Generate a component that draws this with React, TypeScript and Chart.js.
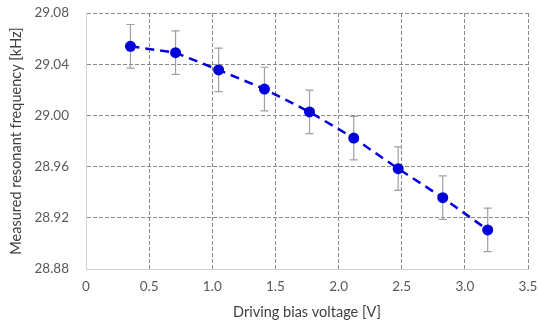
import React, { useEffect, useRef } from "react";
import { Chart, registerables } from "chart.js";

Chart.register(...registerables);

const voltages = [0.352, 0.709, 1.05, 1.413, 1.77, 2.12, 2.472, 2.825, 3.181];
const frequencies = [29.054, 29.049, 29.0355, 29.0206, 29.0027, 28.9823, 28.9584, 28.9357, 28.9105];
const errors = [0.017, 0.017, 0.017, 0.017, 0.017, 0.017, 0.017, 0.017, 0.017];
const yTicksMin = 28.88;
const yTicksMax = 29.08;
const xTicksMin = 0;
const xTicksMax = 3.5;

const errorBarPlugin = {
  id: "errorBars",
  beforeDatasetsDraw(chart: any) {
    const ctx = chart.ctx;
    const xs = chart.scales.x;
    const ys = chart.scales.y;
    ctx.save();
    ctx.strokeStyle = "#a0a0a0";
    ctx.lineWidth = 1.2;
    voltages.forEach((v, i) => {
      const px = xs.getPixelForValue(v);
      const top = ys.getPixelForValue(frequencies[i] + errors[i]);
      const bot = ys.getPixelForValue(frequencies[i] - errors[i]);
      ctx.beginPath();
      ctx.moveTo(px, top);
      ctx.lineTo(px, bot);
      ctx.moveTo(px - 4, top);
      ctx.lineTo(px + 4, top);
      ctx.moveTo(px - 4, bot);
      ctx.lineTo(px + 4, bot);
      ctx.stroke();
    });
    ctx.restore();
  },
};

export default function App() {
  const ref = useRef<HTMLCanvasElement>(null);
  useEffect(() => {
    document.body.style.margin = "0";
    const font = { family: "Lato", size: 13.5 };
    const titleFont = { family: "Lato", size: 14.5 };
    const chart = new Chart(ref.current!, {
      type: "scatter",
      data: {
        datasets: [
          {
            data: voltages.map((v, i) => ({ x: v, y: frequencies[i] })),
            showLine: true,
            borderColor: "#0000dd",
            borderWidth: 2.5,
            borderDash: [9, 6],
            backgroundColor: "#0000dd",
            pointBackgroundColor: "#0000dd",
            pointBorderColor: "#0000dd",
            pointBorderWidth: 0,
            pointRadius: 5.5,
          },
        ],
      },
      options: {
        animation: false,
        responsive: false,
        maintainAspectRatio: false,
        layout: { padding: { left: 4, right: 11, top: 13, bottom: 0 } },
        plugins: { legend: { display: false }, tooltip: { enabled: false } },
        scales: {
          x: {
            type: "linear",
            min: xTicksMin,
            max: xTicksMax,
            ticks: { stepSize: 0.5, color: "#595959", font, padding: 10 },
            grid: { color: "#8a8a8a", drawTicks: false, lineWidth: 1 },
            border: { display: true, color: "#d0d0d0", dash: [4, 2] },
            title: { display: true, text: "Driving bias voltage [V]", color: "#404040", font: titleFont, padding: { top: 0, bottom: 2 } },
            afterFit: (s: any) => { s.height = 54; s.paddingLeft = 0; s.paddingRight = 0; },
          },
          y: {
            type: "linear",
            min: yTicksMin,
            max: yTicksMax,
            ticks: { stepSize: 0.04, color: "#595959", font, padding: 17, callback: (v: any) => Number(v).toFixed(2) },
            grid: { color: "#8a8a8a", drawTicks: false, lineWidth: 1 },
            border: { display: true, color: "#d0d0d0", dash: [4, 2] },
            title: { display: true, text: "Measured resonant frequency [kHz]", color: "#404040", font: titleFont, padding: { bottom: 3 } },
            afterFit: (s: any) => { s.width = 82; s.paddingTop = 0; s.paddingBottom = 0; },
          },
        },
      },
      plugins: [errorBarPlugin],
    } as any);
    return () => chart.destroy();
  }, []);
  return (
    <div style={{ width: 539, height: 323 }}>
      <canvas ref={ref} width={539} height={323} style={{ width: 539, height: 323 }} />
    </div>
  );
}
